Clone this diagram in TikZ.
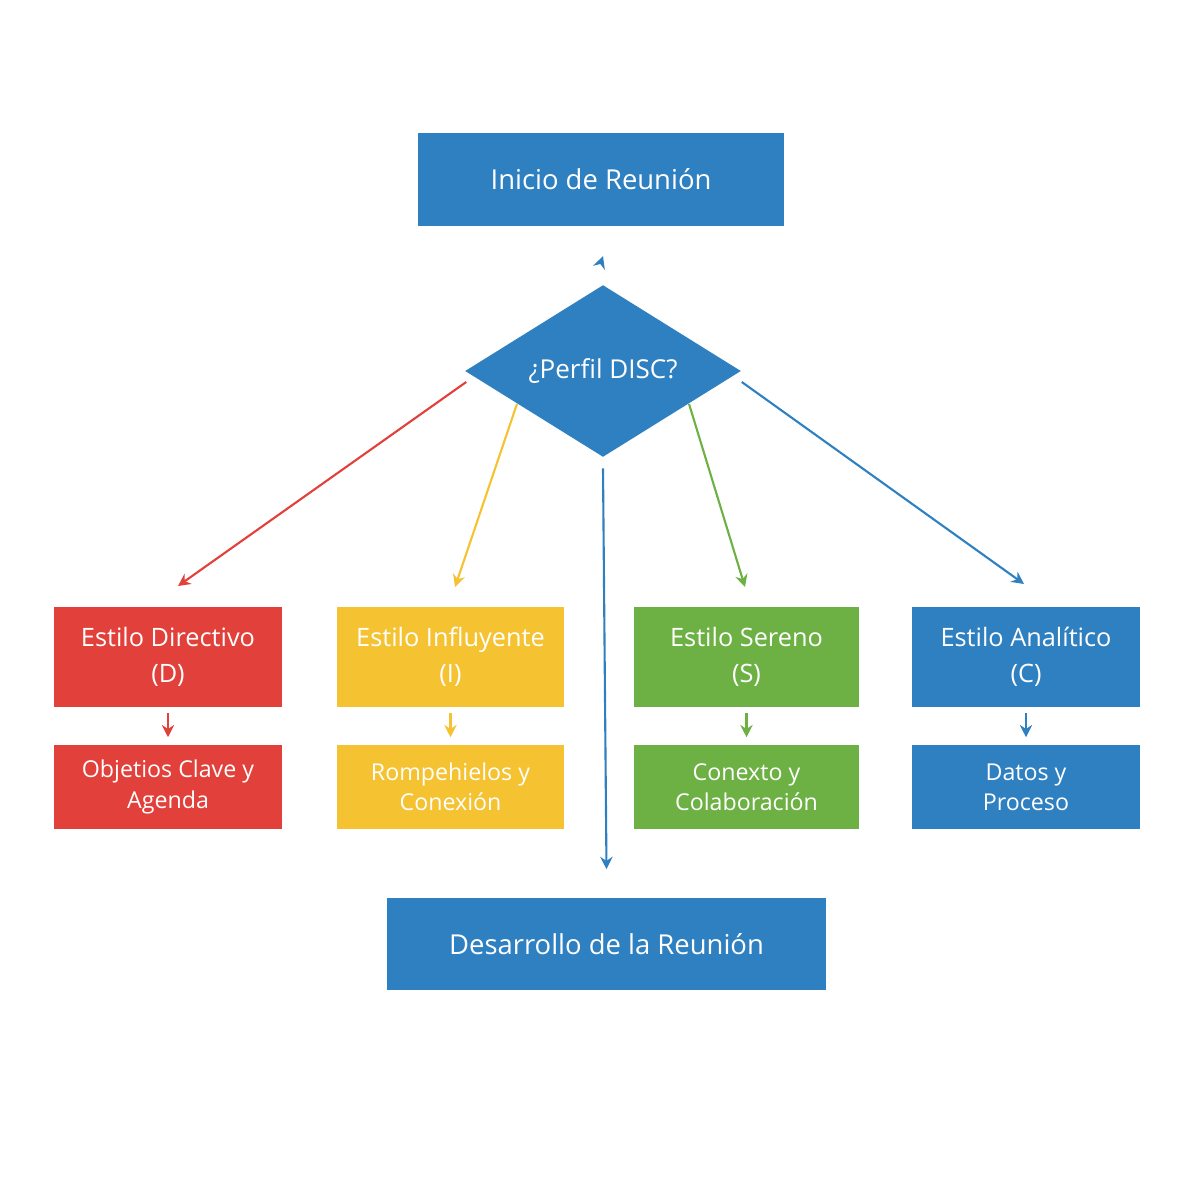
\documentclass[tikz,border=0pt]{standalone}
\usepackage{fontspec}
\setmainfont{Open Sans}
\usetikzlibrary{shapes.geometric,arrows.meta,calc}
\definecolor{cR}{HTML}{E2403A}
\definecolor{cY}{HTML}{F5C232}
\definecolor{cG}{HTML}{6DB144}
\definecolor{cB}{HTML}{2F80C1}
\tikzset{
 box/.style={fill=#1,text=white,inner sep=0pt,align=center,font=\fontsize{6.6}{8.6}\selectfont},
 arr/.style={draw=#1,line width=0.6pt,-{Stealth[length=3.5pt,width=3.5pt]}}
}
\begin{document}
\begin{tikzpicture}[x=0.01cm,y=-0.01cm]
\useasboundingbox (0,0) rectangle (1200,1200);
\node[box=cB,minimum width=3.66cm,minimum height=0.93cm,font=\fontsize{7.8}{9}\selectfont] (start) at (601,179.5) {Inicio de Reunión};
\node[diamond,fill=cB,text=white,minimum width=2.76cm,minimum height=1.72cm,inner sep=0pt,aspect=1.6,font=\fontsize{7.4}{9}\selectfont] (dec) at (603,371) {¿Perfil DISC?};
\node[box=cR,minimum width=2.28cm,minimum height=1.0cm,font=\fontsize{7.2}{10.2}\selectfont] (d) at (168,657) {Estilo Directivo\\(D)};
\node[box=cY,minimum width=2.27cm,minimum height=1.0cm,font=\fontsize{7.2}{10.2}\selectfont] (i) at (450.5,657) {Estilo Influyente\\(I)};
\node[box=cG,minimum width=2.25cm,minimum height=1.0cm,font=\fontsize{7.2}{10.2}\selectfont] (s) at (746.5,657) {Estilo Sereno\\(S)};
\node[box=cB,minimum width=2.28cm,minimum height=1.0cm,font=\fontsize{7.2}{10.2}\selectfont] (c) at (1026,657) {Estilo Analítico\\(C)};
\node[box=cR,minimum width=2.28cm,minimum height=0.84cm] (d2) at (168,787) {Objetios Clave y\\Agenda};
\node[box=cY,minimum width=2.27cm,minimum height=0.84cm] (i2) at (450.5,787) {Rompehielos y\\Conexión};
\node[box=cG,minimum width=2.25cm,minimum height=0.84cm] (s2) at (746.5,787) {Conexto y\\Colaboración};
\node[box=cB,minimum width=2.28cm,minimum height=0.84cm] (c2) at (1026,787) {Datos y\\Proceso};
\node[box=cB,minimum width=4.39cm,minimum height=0.92cm,font=\fontsize{7.8}{9}\selectfont] (end) at (606.5,944) {Desarrollo de la Reunión};
\coordinate (pd) at (178,586); \coordinate (pi) at (455,587);
\coordinate (ps) at (745,587); \coordinate (pc) at (1024,584);
\draw[arr=cB] ([yshift=-10pt]start.south) -- ([yshift=8pt]dec.north);
\draw[arr=cR] ([shift={(2,11)}]dec.west) -- (pd);
\draw[arr=cY] ($(dec.south)!0.62!(dec.west)$) -- (pi);
\draw[arr=cG] ($(dec.south)!0.62!(dec.east)$) -- (ps);
\draw[arr=cB] ([shift={(0,11)}]dec.east) -- (pc);
\draw[arr=cB] ([yshift=-3pt]dec.south) -- ([yshift=8pt]end.north);
\foreach \a/\b/\k in {d/d2/cR,i/i2/cY,s/s2/cG,c/c2/cB}
  \draw[arr=\k] ([yshift=-1.5pt]\a.south) -- ([yshift=2pt]\b.north);
\end{tikzpicture}
\end{document}
